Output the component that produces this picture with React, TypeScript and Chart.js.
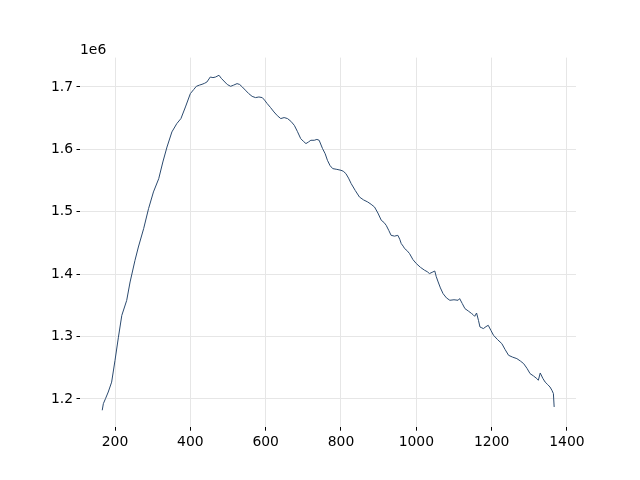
import React, { useEffect, useRef } from "react";
import { Chart, registerables } from "chart.js";

Chart.register(...registerables);

const xValues: number[] = [
  166, 169, 175, 182, 191, 200, 209, 218, 231, 240, 253, 262, 276, 289, 302, 316, 327, 338, 351, 364,
  375, 387, 400, 409, 416, 424, 431, 438, 444, 453, 460, 467, 476, 482, 489, 498, 507, 515, 524, 531,
  538, 546, 555, 564, 573, 582, 591, 597, 604, 613, 622, 631, 640, 649, 658, 667, 676, 684, 693, 700,
  707, 714, 720, 729, 736, 742, 751, 758, 764, 771, 778, 789, 800, 806, 813, 820, 827, 838, 849, 860,
  871, 880, 889, 898, 907, 914, 920, 927, 933, 942, 951, 956, 960, 965, 969, 975, 982, 991, 1000, 1011,
  1022, 1029, 1035, 1042, 1049, 1053, 1058, 1064, 1071, 1080, 1089, 1100, 1111, 1115, 1122, 1129, 1138, 1147, 1151, 1155,
  1160, 1165, 1169, 1174, 1178, 1185, 1191, 1198, 1205, 1216, 1227, 1236, 1245, 1256, 1267, 1276, 1285, 1294, 1302, 1311,
  1320, 1324, 1329, 1336, 1342, 1349, 1355, 1360, 1364, 1366
];

const yValues: number[] = [
  1.1819, 1.1925, 1.2010, 1.2112, 1.2270, 1.2620, 1.2990, 1.3340, 1.3580, 1.3875, 1.4222, 1.4436, 1.4730, 1.5050, 1.5318, 1.5530, 1.5798, 1.6038, 1.6280, 1.6413,
  1.6494, 1.6680, 1.6894, 1.6960, 1.7011, 1.7030, 1.7043, 1.7060, 1.7080, 1.7160, 1.7150, 1.7160, 1.7188, 1.7140, 1.7096, 1.7040, 1.7011, 1.7030, 1.7054, 1.7040,
  1.7000, 1.6950, 1.6894, 1.6850, 1.6830, 1.6840, 1.6830, 1.6790, 1.6734, 1.6670, 1.6600, 1.6540, 1.6494, 1.6510, 1.6494, 1.6450, 1.6386, 1.6290, 1.6173, 1.6130,
  1.6093, 1.6120, 1.6146, 1.6146, 1.6160, 1.6146, 1.6013, 1.5930, 1.5825, 1.5740, 1.5692, 1.5680, 1.5665, 1.5650, 1.5612, 1.5540, 1.5452, 1.5340, 1.5237, 1.5190,
  1.5157, 1.5120, 1.5077, 1.4980, 1.4864, 1.4830, 1.4784, 1.4700, 1.4623, 1.4610, 1.4623, 1.4560, 1.4490, 1.4450, 1.4410, 1.4380, 1.4330, 1.4234, 1.4170, 1.4110,
  1.4063, 1.4040, 1.4010, 1.4030, 1.4051, 1.3960, 1.3875, 1.3780, 1.3689, 1.3620, 1.3582, 1.3590, 1.3582, 1.3609, 1.3530, 1.3449, 1.3410, 1.3369, 1.3350, 1.3325,
  1.3378, 1.3260, 1.3154, 1.3140, 1.3128, 1.3160, 1.3181, 1.3100, 1.3021, 1.2950, 1.2888, 1.2790, 1.2700, 1.2670, 1.2647, 1.2610, 1.2567, 1.2490, 1.2407, 1.2370,
  1.2327, 1.2300, 1.2417, 1.2330, 1.2272, 1.2230, 1.2192, 1.2140, 1.2087, 1.1872
];

const xTicks: number[] = [200, 400, 600, 800, 1000, 1200, 1400];
const yTicks: number[] = [1.2e6, 1.3e6, 1.4e6, 1.5e6, 1.6e6, 1.7e6];
const offsetLabel = "1e6";

const FONT = "'DejaVu Sans', sans-serif";

export default function App() {
  const ref = useRef<HTMLCanvasElement | null>(null);

  useEffect(() => {
    if (!ref.current) return;
    const points = xValues.map((x, i) => ({ x, y: yValues[i] * 1e6 }));

    const offsetPlugin = {
      id: "offsetText",
      afterDraw(chart: any) {
        const ctx = chart.ctx;
        ctx.save();
        ctx.font = `13.9px ${FONT}`;
        ctx.fillStyle = "#000";
        ctx.textAlign = "left";
        ctx.textBaseline = "alphabetic";
        ctx.fillText(offsetLabel, chart.chartArea.left, 53.5);
        ctx.restore();
      },
    };

    const chart = new Chart(ref.current, {
      type: "scatter",
      data: {
        datasets: [
          {
            data: points,
            showLine: true,
            borderColor: "#2b4a6f",
            borderWidth: 1,
            pointRadius: 0,
            tension: 0,
          },
        ],
      },
      options: {
        responsive: false,
        animation: false,
        layout: { padding: { top: 57.6, right: 64, left: 0, bottom: 0 } },
        plugins: { legend: { display: false }, tooltip: { enabled: false } },
        scales: {
          x: {
            type: "linear",
            min: 107,
            max: 1424,
            afterBuildTicks: (s: any) => {
              s.ticks = xTicks.map((v) => ({ value: v }));
            },
            afterFit: (s: any) => {
              s.height = 52.8;
            },
            border: { display: false },
            grid: { color: "#e6e6e6", lineWidth: 1, tickColor: "#000", tickLength: 3.5, drawTicks: true },
            ticks: {
              padding: 3.5,
              color: "#000",
              font: { family: FONT, size: 13.9 },
              maxRotation: 0,
              callback: (v: any) => String(v),
            },
          },
          y: {
            type: "linear",
            min: 1.1548e6,
            max: 1.7471e6,
            afterBuildTicks: (s: any) => {
              s.ticks = yTicks.map((v) => ({ value: v }));
            },
            afterFit: (s: any) => {
              s.width = 80;
            },
            border: { display: false },
            grid: { color: "#e6e6e6", lineWidth: 1, tickColor: "#000", tickLength: 3.5, drawTicks: true },
            ticks: {
              padding: 3.5,
              color: "#000",
              font: { family: FONT, size: 13.9 },
              callback: (v: any) => (Number(v) / 1e6).toFixed(1),
            },
          },
        },
      },
      plugins: [offsetPlugin],
    });
    return () => chart.destroy();
  }, []);

  return (
    <div style={{ position: "fixed", left: 0, top: 0, width: 640, height: 480, background: "#fff" }}>
      <canvas ref={ref} width={640} height={480} style={{ width: 640, height: 480 }} />
    </div>
  );
}
